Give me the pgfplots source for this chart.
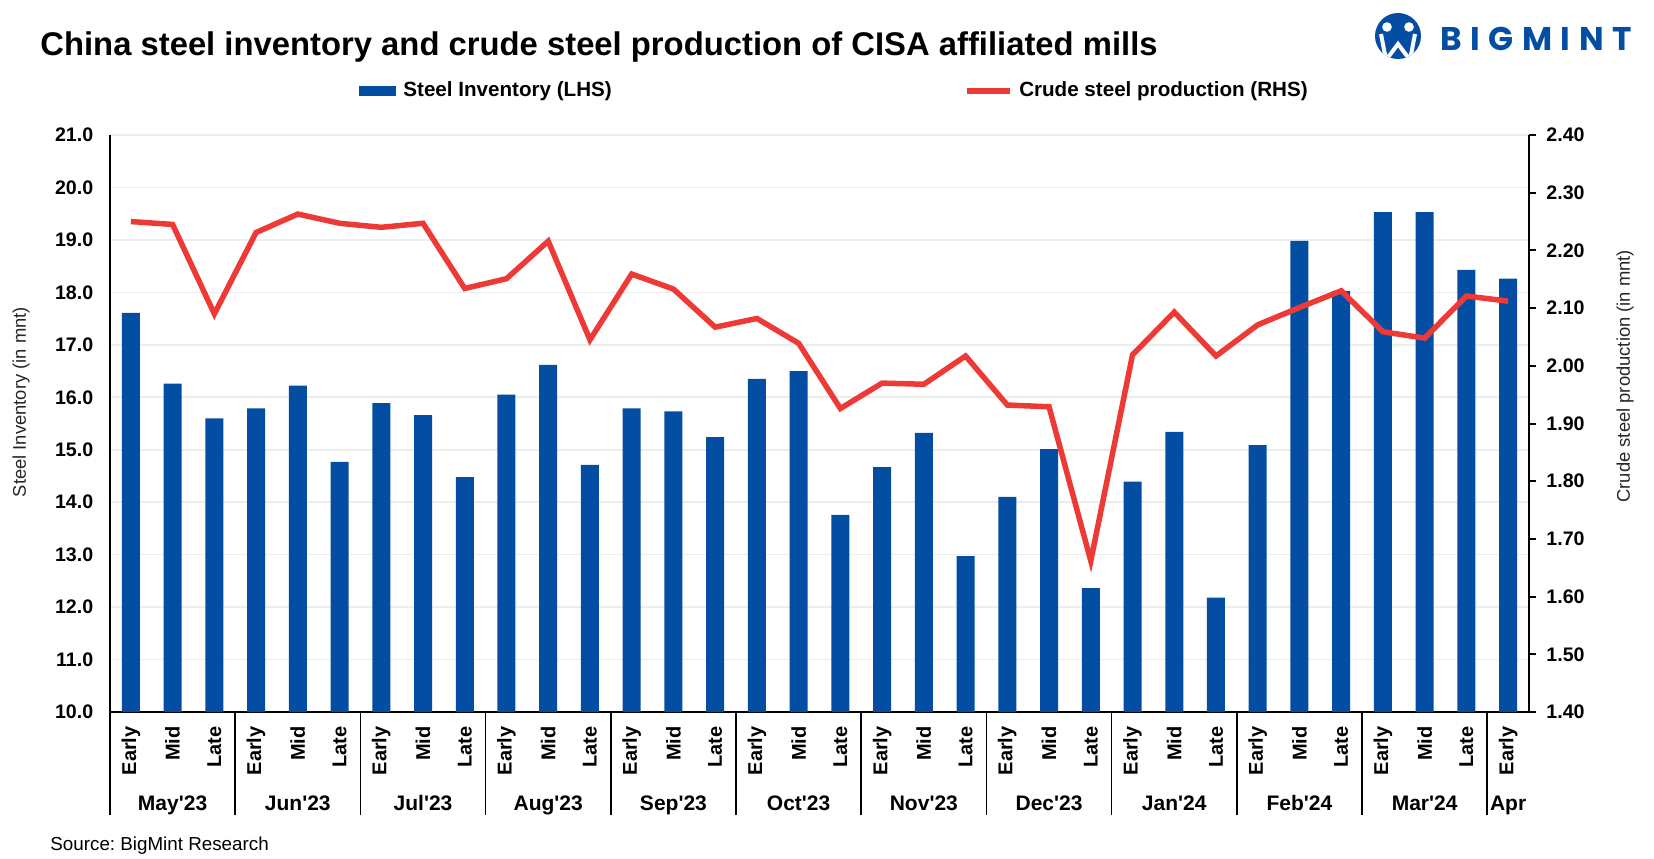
\documentclass[border=0pt]{standalone}
\usepackage{fontspec}
\setmainfont{Liberation Sans}
\newfontfamily\logofont[LetterSpace=26]{Poppins}
\usepackage{pgfplots}
\usepackage{pgfplotstable}
\pgfplotsset{compat=1.18}
\definecolor{barblue}{HTML}{034EA2}
\definecolor{linered}{HTML}{EE3A36}
\definecolor{gridgray}{HTML}{EDEDED}
\frenchspacing

% steel inventory, mnt (LHS)
\pgfplotstableread{
x inv
0 17.61
1 16.26
2 15.60
3 15.79
4 16.22
5 14.77
6 15.89
7 15.66
8 14.48
9 16.05
10 16.62
11 14.71
12 15.79
13 15.73
14 15.24
15 16.35
16 16.50
17 13.76
18 14.67
19 15.32
20 12.97
21 14.10
22 15.01
23 12.36
24 14.39
25 15.34
26 12.18
27 15.09
28 18.98
29 18.03
30 19.53
31 19.53
32 18.43
33 18.26
}\invtable

% crude steel production, mnt (RHS)
\pgfplotstableread{
x prod
0 2.250
1 2.245
2 2.090
3 2.231
4 2.263
5 2.247
6 2.240
7 2.247
8 2.134
9 2.151
10 2.216
11 2.045
12 2.159
13 2.133
14 2.067
15 2.082
16 2.039
17 1.926
18 1.970
19 1.968
20 2.017
21 1.932
22 1.929
23 1.662
24 2.019
25 2.093
26 2.017
27 2.071
28 2.101
29 2.130
30 2.059
31 2.048
32 2.121
33 2.112
}\prodtable

\newcommand{\tickfont}{\fontsize{9.8}{11}\selectfont\bfseries}
\newcommand{\labfont}{\fontsize{9.2}{11}\selectfont}
\newcommand{\monthfont}{\fontsize{10.5}{12}\selectfont\bfseries}

\begin{document}
\begin{tikzpicture}
\path[use as bounding box] (-55pt,-73pt) rectangle (772pt,356pt);

\begin{axis}[
  at={(0,0)}, anchor=south west,
  scale only axis, width=709.5pt, height=288.5pt,
  clip=false,
  xmin=-0.5, xmax=33.5, ymin=10, ymax=21,
  ybar, bar width=9pt,
  axis x line*=bottom, axis y line*=left,
  axis line style={black, line width=1pt},
  xtick={0,...,33},
  xticklabels={Early,Mid,Late,Early,Mid,Late,Early,Mid,Late,Early,Mid,Late,
    Early,Mid,Late,Early,Mid,Late,Early,Mid,Late,Early,Mid,Late,
    Early,Mid,Late,Early,Mid,Late,Early,Mid,Late,Early},
  xticklabel style={rotate=90, anchor=east, inner sep=0pt,
    font=\fontsize{10}{12}\selectfont\bfseries},
  xticklabel shift=7pt,
  x tick style={black, line width=0.8pt},
  major tick length=2pt, tick align=inside,
  extra x ticks={-0.5,2.5,...,33.5},
  extra x tick labels={},
  extra x tick style={major tick length=51.5pt, tick align=outside,
    tick style={black, line width=1pt}},
  ytick={10,11,...,21},
  y tick style={draw=none},
  ymajorgrids, grid style={gridgray, line width=0.8pt},
  yticklabel style={inner sep=0pt, xshift=-8.2pt, font=\tickfont},
  /pgf/number format/.cd, fixed, zerofill, precision=1, assume math mode=true,
  /pgfplots/.cd,
  ylabel={Steel Inventory (in mnt)},
  ylabel style={at={(axis description cs:-0.0627,0.537)}, anchor=center,
    font=\labfont, black!85},
  legend columns=2,
  legend style={at={(axis description cs:0.1755,1.0763)}, anchor=west,
    draw=none, fill=none, inner sep=0pt,
    font=\fontsize{10.3}{12}\selectfont\bfseries,
    nodes={inner sep=0pt},
    /tikz/every odd column/.append style={column sep=3.5pt},
    /tikz/every even column/.append style={column sep=176pt}},
]
\addplot[fill=barblue, draw=none,
  legend image code/.code={\fill[barblue] (0pt,-2.4pt) rectangle (18.5pt,2.4pt);}]
  table[x=x, y=inv] {\invtable};
\addlegendentry{Steel Inventory (LHS)}
\addlegendimage{legend image code/.code={\draw[linered, line width=2.75pt] (0pt,0pt) -- (21.5pt,0pt);}}
\addlegendentry{Crude steel production (RHS)}

\node[font=\monthfont, anchor=base] at ([yshift=-49.3pt]axis cs:1,10) {May\textquotesingle 23};
\node[font=\monthfont, anchor=base] at ([yshift=-49.3pt]axis cs:4,10) {Jun\textquotesingle 23};
\node[font=\monthfont, anchor=base] at ([yshift=-49.3pt]axis cs:7,10) {Jul\textquotesingle 23};
\node[font=\monthfont, anchor=base] at ([yshift=-49.3pt]axis cs:10,10) {Aug\textquotesingle 23};
\node[font=\monthfont, anchor=base] at ([yshift=-49.3pt]axis cs:13,10) {Sep\textquotesingle 23};
\node[font=\monthfont, anchor=base] at ([yshift=-49.3pt]axis cs:16,10) {Oct\textquotesingle 23};
\node[font=\monthfont, anchor=base] at ([yshift=-49.3pt]axis cs:19,10) {Nov\textquotesingle 23};
\node[font=\monthfont, anchor=base] at ([yshift=-49.3pt]axis cs:22,10) {Dec\textquotesingle 23};
\node[font=\monthfont, anchor=base] at ([yshift=-49.3pt]axis cs:25,10) {Jan\textquotesingle 24};
\node[font=\monthfont, anchor=base] at ([yshift=-49.3pt]axis cs:28,10) {Feb\textquotesingle 24};
\node[font=\monthfont, anchor=base] at ([yshift=-49.3pt]axis cs:31,10) {Mar\textquotesingle 24};
\node[font=\monthfont, anchor=base] at ([yshift=-49.3pt]axis cs:33,10) {Apr};
\end{axis}

\begin{axis}[
  at={(0,0)}, anchor=south west,
  scale only axis, width=709.5pt, height=288.5pt,
  clip=false,
  xmin=-0.5, xmax=33.5, ymin=1.4, ymax=2.4,
  axis x line=none, axis y line*=right,
  axis line style={black, line width=1pt},
  ytick={1.4,1.5,1.6,1.7,1.8,1.9,2.0,2.1,2.2,2.3,2.4},
  tick align=outside, major tick length=3.5pt,
  y tick style={black, line width=1pt},
  yticklabel style={inner sep=0pt, xshift=5pt, font=\tickfont},
  /pgf/number format/.cd, fixed, zerofill, precision=2, assume math mode=true,
  /pgfplots/.cd,
  ylabel={Crude steel production (in mnt)},
  ylabel style={at={(axis description cs:1.0677,0.582)}, anchor=center,
    font=\labfont, black!85},
]
\addplot[linered, line width=2.75pt, mark=none] table[x=x, y=prod] {\prodtable};
\end{axis}

% title
\node[anchor=base west, inner sep=0pt, font=\fontsize{16.4}{20}\selectfont\bfseries]
  at (-35pt,328pt) {China steel inventory and crude steel production of CISA affiliated mills};

% logo
\fill[barblue] (644pt,338pt) circle (11.5pt);
\begin{scope}
  \clip (644pt,338pt) circle (11.5pt);
  \fill[white] (638.5pt,342.5pt) circle (2.4pt);
  \fill[white] (649.5pt,342.5pt) circle (2.4pt);
  \draw[white, line width=2pt, line join=miter]
    (635.5pt,339pt) -- (638pt,326pt) -- (644pt,334pt) -- (650pt,326pt) -- (652.5pt,339pt);
\end{scope}
\node[anchor=base west, inner sep=0pt, text=barblue, font=\logofont\fontsize{16.4}{20}\selectfont\bfseries]
  at (665pt,330.75pt) {BIGMINT};

% source
\node[anchor=base west, inner sep=0pt, font=\fontsize{9.4}{11}\selectfont]
  at (-30pt,-69.4pt) {Source: BigMint Research};
\end{tikzpicture}
\end{document}
